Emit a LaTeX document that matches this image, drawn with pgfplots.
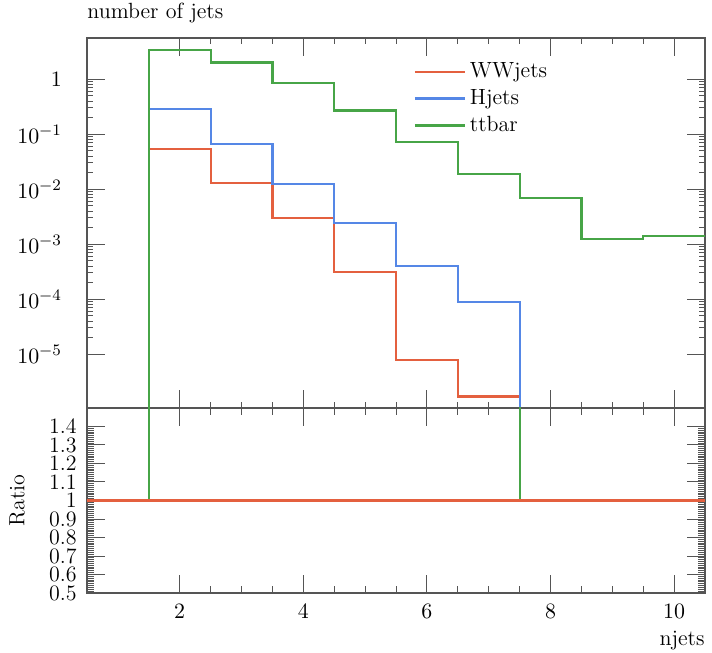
\documentclass[border=0pt]{standalone}
\usepackage{pgfplots}
\pgfplotsset{compat=1.18}

\definecolor{wwred}{HTML}{E4603F}
\definecolor{hblue}{HTML}{5587E6}
\definecolor{ttgreen}{HTML}{47A547}
\definecolor{axgray}{HTML}{555555}

\newcommand\rfont{\fontsize{11}{13}\selectfont}

\pgfplotsset{
  rivet/.style={
    scale only axis,
    width=309pt,
    xmin=0.5, xmax=10.5,
    xtick={2,4,6,8,10},
    minor x tick num=3,
    axis line style={axgray, line width=0.6pt},
    every tick/.style={axgray, line width=0.5pt},
    major tick length=9pt,
    minor tick length=3.5pt,
    tick align=inside,
    tick pos=both,
    tick label style={font=\rfont},
    clip=true,
  },
}

\begin{document}
\begin{tikzpicture}
% main panel
\begin{axis}[
  rivet,
  name=main,
  height=185pt,
  ymode=log,
  ymin=1.05e-6, ymax=5.6,
  ytick={1e-5,1e-4,1e-3,1e-2,1e-1,1},
  yticklabels={$10^{-5}$,$10^{-4}$,$10^{-3}$,$10^{-2}$,$10^{-1}$,$1$\hspace{-9pt}},
  yticklabel shift=9pt,
  minor tick length=3pt,
  xticklabels={},
  legend style={draw=none, fill=none, at={(0.528,0.945)}, anchor=north west,
    font=\rfont, row sep=0.4pt, inner sep=0pt},
  legend cell align=left,
  legend image code/.code={\draw[#1] (0pt,0pt) -- (25pt,0pt);},
]
\addplot[wwred, line width=1.1pt, const plot mark left] coordinates {
  (1.5,1e-9) (1.5,0.053) (2.5,0.0128) (3.5,0.0030) (4.5,3.1e-4)
  (5.5,7.8e-6) (6.5,1.7e-6) (7.5,1e-9) (10.5,1e-9)
};
\addplot[hblue, line width=1.1pt, const plot mark left] coordinates {
  (1.5,1e-9) (1.5,0.285) (2.5,0.066) (3.5,0.0123) (4.5,0.0024)
  (5.5,4.0e-4) (6.5,8.9e-5) (7.5,1e-9) (10.5,1e-9)
};
\addplot[ttgreen, line width=1.1pt, const plot mark left] coordinates {
  (1.5,1e-9) (1.5,3.4) (2.5,2.0) (3.5,0.85) (4.5,0.27) (5.5,0.071)
  (6.5,0.019) (7.5,0.0069) (8.5,0.00125) (9.5,0.0014) (10.5,0.0014)
};
\legend{WWjets, Hjets, ttbar}
\end{axis}
\node[anchor=base west, inner sep=0pt, font=\rfont] at ([yshift=9.5pt]main.north west) {number of jets};

% ratio panel
\begin{axis}[
  rivet,
  name=ratio,
  at={(main.south west)}, anchor=north west,
  height=92.5pt,
  ymin=0.5, ymax=1.5,
  ytick={0.5,0.6,...,1.41},
  yticklabels={0.5,0.6,0.7,0.8,0.9,1,1.1,1.2,1.3,1.4},
  minor y tick num=9,
  yticklabel style={inner ysep=0pt, inner xsep=0pt},
  yticklabel shift=5pt,
  xticklabel shift=2pt,
]
\addplot[ttgreen, line width=1.1pt, const plot mark left] coordinates {
  (0.5,1) (1.5,100) (7.5,1) (10.5,1)
};
\addplot[hblue, line width=1.1pt, const plot mark left] coordinates {
  (0.5,1) (10.5,1)
};
\addplot[wwred, line width=1.1pt, const plot mark left] coordinates {
  (0.5,1) (10.5,1)
};
\end{axis}
\node[anchor=north east, inner sep=0pt, font=\rfont] at ([yshift=-19pt]ratio.south east) {njets};
\node[rotate=90, anchor=center, inner sep=0pt, font=\rfont] at ([xshift=-35pt]ratio.west) {Ratio};

% page extent
\path ([xshift=-43.5pt, yshift=-30pt]ratio.south west) rectangle ([xshift=3.5pt, yshift=19pt]main.north east);
\end{tikzpicture}
\end{document}
